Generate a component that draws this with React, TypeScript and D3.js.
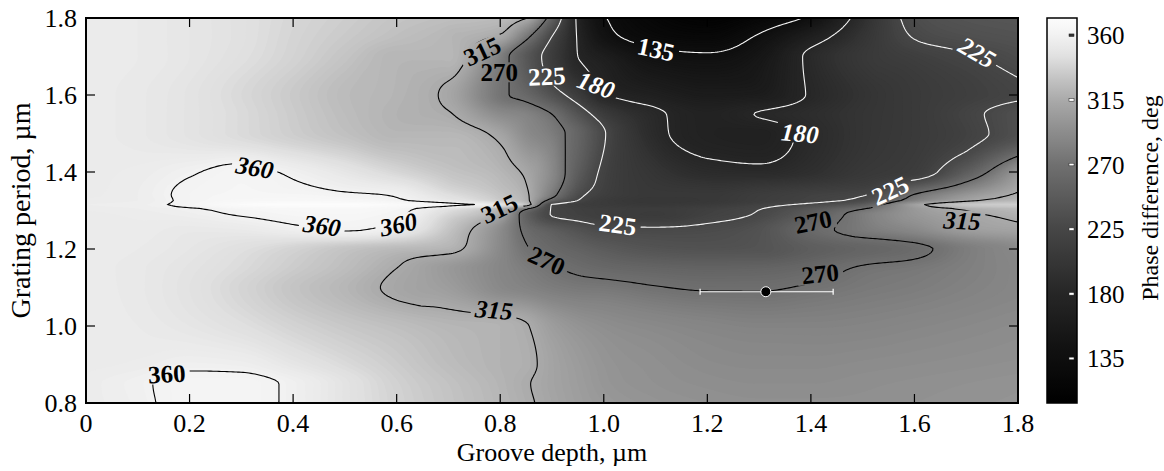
import React, { useMemo } from 'react';
import * as d3 from 'd3';

// ---------- data ----------
// groove depth (µm) columns of the sampled grid
const depthGrid = [0, 0.1, 0.2, 0.3, 0.4, 0.5, 0.6, 0.7, 0.8, 0.85, 0.9, 0.95, 1.0, 1.1, 1.2, 1.3, 1.4, 1.5, 1.6, 1.7, 1.8];
// grating period (µm) rows of the sampled grid
const periodGrid = [0.8, 0.85, 0.9, 1.0, 1.1, 1.15, 1.2, 1.25, 1.29, 1.305, 1.315, 1.325, 1.34, 1.4, 1.5, 1.55, 1.6, 1.7, 1.75, 1.8];
// phase difference (deg), one row per grating period
const phaseGrid = [
  [355, 358, 363, 363, 358, 348, 338, 330, 322, 317, 311, 306, 302, 298, 296, 295, 295, 295, 296, 297, 298], // 0.8
  [355, 358.5, 363, 363, 358, 348, 337, 329, 321, 316, 310, 305, 300, 296, 294, 293, 293, 294, 295, 296, 297], // 0.85
  [354, 355, 358, 357, 350, 342, 334, 326, 320, 318, 310, 304, 299, 295, 292, 291, 291, 292, 293, 294, 295], // 0.9
  [354, 353, 350, 345, 338, 332, 327, 322, 320, 316, 305, 298, 294, 290, 287, 285, 285, 286, 288, 290, 292], // 1.0
  [354, 352, 347, 339, 330, 322, 312, 305, 290, 285, 280, 277, 276, 271, 268, 268, 272, 277, 280, 284, 288], // 1.1
  [354, 352, 348, 342, 334, 326, 315, 302, 288, 280, 272, 266, 262, 258, 256, 257, 262, 272, 276, 282, 288], // 1.15
  [354, 353, 350, 345, 338, 330, 324, 320, 290, 272, 262, 255, 248, 240, 238, 240, 250, 258, 265, 280, 290], // 1.2
  [354, 354, 352, 353, 357, 361, 355, 330, 292, 265, 250, 238, 230, 228, 230, 238, 262, 278, 290, 305, 310], // 1.25
  [354, 355, 357, 361, 364, 365, 362, 340, 312, 255, 224, 218, 214, 210, 218, 227, 250, 280, 300, 312, 320], // 1.29
  [355, 356, 359, 364, 366, 367, 364, 348, 322, 275, 224, 217, 214, 211, 216, 224, 242, 268, 302, 318, 325], // 1.305
  [356, 357, 363, 370, 372, 372, 369, 365, 350, 330, 224, 214, 210, 206, 210, 219, 230, 250, 308, 332, 336], // 1.315
  [355, 356, 362, 366, 367, 366, 362, 352, 334, 320, 255, 224, 210, 203, 205, 213, 220, 232, 285, 312, 325], // 1.325
  [354, 356, 362, 364, 364, 362, 359, 345, 330, 318, 278, 232, 215, 205, 205, 212, 218, 224, 272, 300, 318], // 1.34
  [354, 355, 359, 363, 358, 350, 340, 330, 322, 312, 290, 250, 220, 200, 188, 186, 193, 205, 212, 250, 300], // 1.4
  [354, 352, 348, 342, 335, 328, 322, 322, 310, 292, 280, 258, 227, 186, 172, 170, 186, 200, 208, 218, 235], // 1.5
  [354, 352, 348, 342, 334, 326, 320, 316, 292, 285, 270, 240, 212, 184, 172, 181, 190, 200, 208, 220, 235], // 1.55
  [354, 352, 348, 341, 333, 325, 321, 312, 274, 262, 238, 212, 182, 168, 160, 162, 182, 198, 208, 215, 222], // 1.6
  [354, 353, 350, 345, 338, 330, 322, 322, 282, 245, 212, 180, 165, 142, 138, 150, 185, 205, 215, 223, 232], // 1.7
  [354, 353, 350, 346, 339, 333, 327, 322, 312, 276, 224, 178, 145, 126, 122, 138, 168, 200, 226, 234, 238], // 1.75
  [354, 353, 350, 346, 340, 335, 330, 327, 325, 316, 255, 175, 137, 118, 110, 120, 140, 192, 232, 240, 242], // 1.8
];

const contourLevels = [135, 180, 225, 270, 315, 360];
const xTicks = [0, 0.2, 0.4, 0.6, 0.8, 1.0, 1.2, 1.4, 1.6, 1.8];
const yTicks = [0.8, 1.0, 1.2, 1.4, 1.6, 1.8];
const colorbarTicks = [135, 180, 225, 270, 315, 360];
const colorDomain = [104, 372];

// contour labels: level, position (depth, period), rotation, slant
const contourLabels = [
  { level: 135, depth: 1.101, period: 1.719, angle: 12, italic: false },
  { level: 180, depth: 0.985, period: 1.626, angle: 20, italic: true },
  { level: 225, depth: 0.89, period: 1.649, angle: -3, italic: false },
  { level: 270, depth: 0.798, period: 1.659, angle: 0, italic: false },
  { level: 315, depth: 0.765, period: 1.714, angle: -25, italic: false },
  { level: 225, depth: 1.721, period: 1.711, angle: 30, italic: true },
  { level: 180, depth: 1.379, period: 1.501, angle: 5, italic: true },
  { level: 225, depth: 1.553, period: 1.352, angle: -25, italic: false },
  { level: 270, depth: 1.404, period: 1.271, angle: -12, italic: false },
  { level: 315, depth: 1.692, period: 1.274, angle: 3, italic: true },
  { level: 270, depth: 1.418, period: 1.136, angle: -6, italic: false },
  { level: 270, depth: 0.89, period: 1.17, angle: 25, italic: false },
  { level: 225, depth: 1.027, period: 1.264, angle: 8, italic: false },
  { level: 315, depth: 0.798, period: 1.305, angle: -25, italic: false },
  { level: 315, depth: 0.788, period: 1.042, angle: 5, italic: true },
  { level: 360, depth: 0.326, period: 1.412, angle: 10, italic: true },
  { level: 360, depth: 0.456, period: 1.261, angle: 8, italic: true },
  { level: 360, depth: 0.603, period: 1.264, angle: -12, italic: true },
  { level: 360, depth: 0.156, period: 0.876, angle: -3, italic: false },
];

const measuredDepth = 1.313;
const measuredPeriod = 1.089;
const depthErrorLow = 1.186;
const depthErrorHigh = 1.443;

// grayscale colour map (phase -> gray level)
const grayStopValues = [104, 135, 180, 225, 270, 300, 315, 330, 345, 360, 372];
const grayStopLevels = [0, 14, 38, 70, 112, 150, 170, 196, 224, 242, 252];

// ---------- helpers ----------
function monotone(xs: number[], ys: number[]) {
  const n = xs.length;
  const h: number[] = [];
  const s: number[] = [];
  for (let i = 0; i < n - 1; i++) {
    h[i] = xs[i + 1] - xs[i];
    s[i] = (ys[i + 1] - ys[i]) / h[i];
  }
  const m: number[] = new Array(n).fill(0);
  m[0] = s[0];
  m[n - 1] = s[n - 2];
  for (let i = 1; i < n - 1; i++) {
    const s0 = s[i - 1], s1 = s[i], h0 = h[i - 1], h1 = h[i];
    const p = (s0 * h1 + s1 * h0) / (h0 + h1);
    m[i] = (Math.sign(s0) + Math.sign(s1)) * Math.min(Math.abs(s0), Math.abs(s1), 0.5 * Math.abs(p)) || 0;
  }
  return (xq: number) => {
    let i = d3.bisectRight(xs, xq) - 1;
    i = Math.max(0, Math.min(n - 2, i));
    const t = Math.max(0, Math.min(1, (xq - xs[i]) / h[i]));
    const t2 = t * t, t3 = t2 * t;
    return (2 * t3 - 3 * t2 + 1) * ys[i] + (t3 - 2 * t2 + t) * h[i] * m[i] +
      (-2 * t3 + 3 * t2) * ys[i + 1] + (t3 - t2) * h[i] * m[i + 1];
  };
}

const grayScale = d3.scaleLinear<number>().domain(grayStopValues).range(grayStopLevels).clamp(true);
function grayOf(v: number) {
  const g = Math.round(grayScale(v));
  return `rgb(${g},${g},${g})`;
}

const FONT = "'Liberation Serif', 'Times New Roman', Times, serif";

export default function App() {
  const W = 1164, H = 471;
  const L = 86, R = 1018, T = 18, B = 403;
  const x = d3.scaleLinear().domain([0, 1.8]).range([L, R]);
  const y = d3.scaleLinear().domain([0.8, 1.8]).range([B, T]);

  const nx = 466, ny = 193;

  const { bandPaths, linePaths } = useMemo(() => {
    const rowFns = phaseGrid.map((row) => monotone(depthGrid, row));
    const values = new Float64Array(nx * ny);
    for (let i = 0; i < nx; i++) {
      const dx = x.invert(L + ((i + 0.5) / nx) * (R - L));
      const col = rowFns.map((f) => f(dx));
      const colFn = monotone(periodGrid, col);
      for (let j = 0; j < ny; j++) {
        const py = y.invert(T + ((j + 0.5) / ny) * (B - T));
        values[j * nx + i] = colFn(py);
      }
    }
    const sx = (R - L) / nx, sy = (B - T) / ny;
    const proj = d3.geoTransform({
      point(px: number, py: number) {
        (this as any).stream.point(L + px * sx, T + py * sy);
      },
    });
    const path = d3.geoPath(proj as any);
    const step = 1.5;
    const thr = d3.range(colorDomain[0], colorDomain[1] + step, step);
    const bands = d3.contours().size([nx, ny]).thresholds(thr)(values as any);
    const bandPaths = bands.map((c) => ({ d: path(c as any) || '', fill: grayOf(c.value + step / 2) }));
    const lines = d3.contours().size([nx, ny]).thresholds(contourLevels)(values as any);
    const linePaths = lines.map((c) => ({ d: path(c as any) || '', level: c.value }));
    return { bandPaths, linePaths };
  }, []);

  const labelW = 46, labelH = 20;

  const cbX = 1047, cbW = 30;
  const cbScale = d3.scaleLinear().domain(colorDomain).range([B, T]);
  const cbStops = d3.range(0, 1.0001, 0.02);

  return (
    <div style={{ position: 'absolute', left: 0, top: 0 }}>
      <svg width={W} height={H} style={{ display: 'block', background: '#fff' }} fontFamily={FONT}>
        <defs>
          <clipPath id="plotClip">
            <rect x={L} y={T} width={R - L} height={B - T} />
          </clipPath>
          <mask id="labelMask" maskUnits="userSpaceOnUse" x={0} y={0} width={W} height={H}>
            <rect x={0} y={0} width={W} height={H} fill="#fff" />
            {contourLabels.map((lb, k) => (
              <rect key={k} x={-labelW / 2} y={-labelH / 2} width={labelW} height={labelH} fill="#000"
                transform={`translate(${x(lb.depth)},${y(lb.period)}) rotate(${lb.angle})`} />
            ))}
          </mask>
          <linearGradient id="cbGrad" x1="0" y1="1" x2="0" y2="0">
            {cbStops.map((t) => (
              <stop key={t} offset={t} stopColor={grayOf(colorDomain[0] + t * (colorDomain[1] - colorDomain[0]))} />
            ))}
          </linearGradient>
        </defs>

        <g clipPath="url(#plotClip)">
          <rect x={L} y={T} width={R - L} height={B - T} fill={grayOf(colorDomain[0])} />
          {bandPaths.map((b, k) => (
            <path key={k} d={b.d} fill={b.fill} stroke="none" />
          ))}
          <g mask="url(#labelMask)">
            {linePaths.map((lp, k) => (
              <path key={k} d={lp.d} fill="none" stroke={lp.level <= 225 ? '#f6f6f6' : '#000'} strokeWidth={1.1} />
            ))}
          </g>
          {contourLabels.map((lb, k) => (
            <text key={k} transform={`translate(${x(lb.depth)},${y(lb.period)}) rotate(${lb.angle})`}
              textAnchor="middle" dy="0.35em" fontSize={25} fontWeight="bold" fontStyle={lb.italic ? 'italic' : 'normal'}
              fill={lb.level <= 225 ? '#fff' : '#000'}>{lb.level}</text>
          ))}
          {/* measured point with horizontal error bar */}
          <line x1={x(depthErrorLow)} x2={x(depthErrorHigh)} y1={y(measuredPeriod)} y2={y(measuredPeriod)} stroke="#fff" strokeWidth={1.2} />
          <line x1={x(depthErrorLow)} x2={x(depthErrorLow)} y1={y(measuredPeriod) - 3} y2={y(measuredPeriod) + 3} stroke="#fff" strokeWidth={1.2} />
          <line x1={x(depthErrorHigh)} x2={x(depthErrorHigh)} y1={y(measuredPeriod) - 3} y2={y(measuredPeriod) + 3} stroke="#fff" strokeWidth={1.2} />
          <circle cx={x(measuredDepth)} cy={y(measuredPeriod)} r={5} fill="#000" stroke="#fff" strokeWidth={1} />
        </g>

        {/* ticks */}
        {xTicks.slice(1, -1).map((t) => (
          <g key={'xt' + t}>
            <line x1={x(t)} x2={x(t)} y1={B} y2={B - 9} stroke="#000" strokeWidth={1.2} />
            <line x1={x(t)} x2={x(t)} y1={T} y2={T + 9} stroke="#000" strokeWidth={1.2} />
          </g>
        ))}
        {yTicks.slice(1, -1).map((t) => (
          <g key={'yt' + t}>
            <line x1={L} x2={L + 9} y1={y(t)} y2={y(t)} stroke="#000" strokeWidth={1.2} />
            <line x1={R} x2={R - 9} y1={y(t)} y2={y(t)} stroke="#000" strokeWidth={1.2} />
          </g>
        ))}
        <rect x={L} y={T} width={R - L} height={B - T} fill="none" stroke="#000" strokeWidth={2} />

        {/* tick labels */}
        {xTicks.map((t) => (
          <text key={'xl' + t} x={x(t)} y={432} textAnchor="middle" fontSize={26}>{t === 0 ? '0' : t.toFixed(1)}</text>
        ))}
        {yTicks.map((t) => (
          <text key={'yl' + t} x={77} y={y(t) + 9} textAnchor="end" fontSize={26}>{t.toFixed(1)}</text>
        ))}
        <text x={(L + R) / 2} y={461} textAnchor="middle" fontSize={26}>Groove depth, µm</text>
        <text transform={`translate(30,${(T + B) / 2}) rotate(-90)`} textAnchor="middle" fontSize={28}>Grating period, µm</text>

        {/* colorbar */}
        <rect x={cbX} y={T} width={cbW} height={B - T} fill="url(#cbGrad)" stroke="#000" strokeWidth={1.5} />
        {colorbarTicks.map((t) => (
          <g key={'cb' + t}>
            <rect x={cbX + cbW - 8} y={cbScale(t) - 1.3} width={5} height={2.6}
              fill={t >= 340 ? '#333' : '#fff'} stroke="#222" strokeWidth={0.5} />
            <text x={1087} y={cbScale(t) + 9} fontSize={25}>{t}</text>
          </g>
        ))}
        <text transform={`translate(1158,198) rotate(-90)`} textAnchor="middle" fontSize={24}>Phase difference, deg</text>
      </svg>
    </div>
  );
}
